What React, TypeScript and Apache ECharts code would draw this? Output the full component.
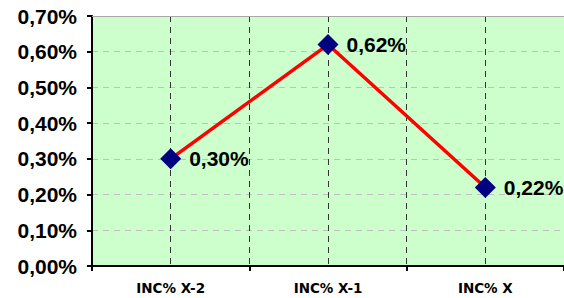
import React, { useEffect, useRef } from "react";
import * as echarts from "echarts";

const categories = ["INC% X-2", "INC% X-1", "INC% X"];
const values = [0.30, 0.62, 0.22];
const yTicks = { min: 0, max: 0.7, interval: 0.1 };

const fmt = (v: number) => v.toFixed(2).replace(".", ",") + "%";

export default function App() {
  const ref = useRef<HTMLDivElement>(null);
  useEffect(() => {
    const chart = echarts.init(ref.current!, undefined, { renderer: "svg" });
    chart.setOption({
      animation: false,
      backgroundColor: "#ffffff",
      grid: { left: 92, right: -2, top: 16, bottom: 32, backgroundColor: "#CCFFCC", show: true, borderWidth: 0 },
      xAxis: [
        {
          type: "category",
          data: categories,
          boundaryGap: true,
          axisLine: { lineStyle: { color: "#000", width: 2 } },
          axisTick: { show: true, length: 5, lineStyle: { color: "#000", width: 2 } },
          axisLabel: { fontFamily: "DejaVu Sans", fontWeight: "bold", fontSize: 13.5, color: "#000", margin: 15 },
          splitLine: { show: false },
        },
        {
          type: "value",
          min: 0,
          max: 6,
          interval: 1,
          position: "top",
          axisLine: { show: true, lineStyle: { color: "#a8a8a8", width: 1 } },
          axisTick: { show: false },
          axisLabel: { show: false },
          splitLine: { show: true, lineStyle: { color: "#333", width: 1, type: [6, 5] } },
        },
      ],
      yAxis: {
        type: "value",
        min: yTicks.min,
        max: yTicks.max,
        interval: yTicks.interval,
        axisLine: { show: true, lineStyle: { color: "#000", width: 2 } },
        axisTick: { show: true, length: 5, lineStyle: { color: "#000", width: 2 } },
        axisLabel: {
          formatter: (v: number) => fmt(v),
          fontFamily: "Liberation Sans",
          fontWeight: "bold",
          fontSize: 21,
          color: "#000",
          margin: 15,
        },
        splitLine: { show: true, lineStyle: { color: "#c0c0c0", width: 1, type: [6, 5] } },
      },
      series: [
        {
          type: "line",
          xAxisIndex: 0,
          data: values,
          z: 5,
          lineStyle: { color: "#FF0000", width: 3.5 },
          symbol: "diamond",
          symbolSize: 21,
          itemStyle: { color: "#000080" },
          label: {
            show: true,
            position: "right",
            distance: 8,
            formatter: (p: any) => fmt(p.value),
            fontFamily: "Liberation Sans",
            fontWeight: "bold",
            fontSize: 21,
            color: "#000",
          },
        },
      ],
    });
    return () => chart.dispose();
  }, []);
  return <div ref={ref} style={{ position: "fixed", left: 0, top: 0, width: 564, height: 298 }} />;
}
